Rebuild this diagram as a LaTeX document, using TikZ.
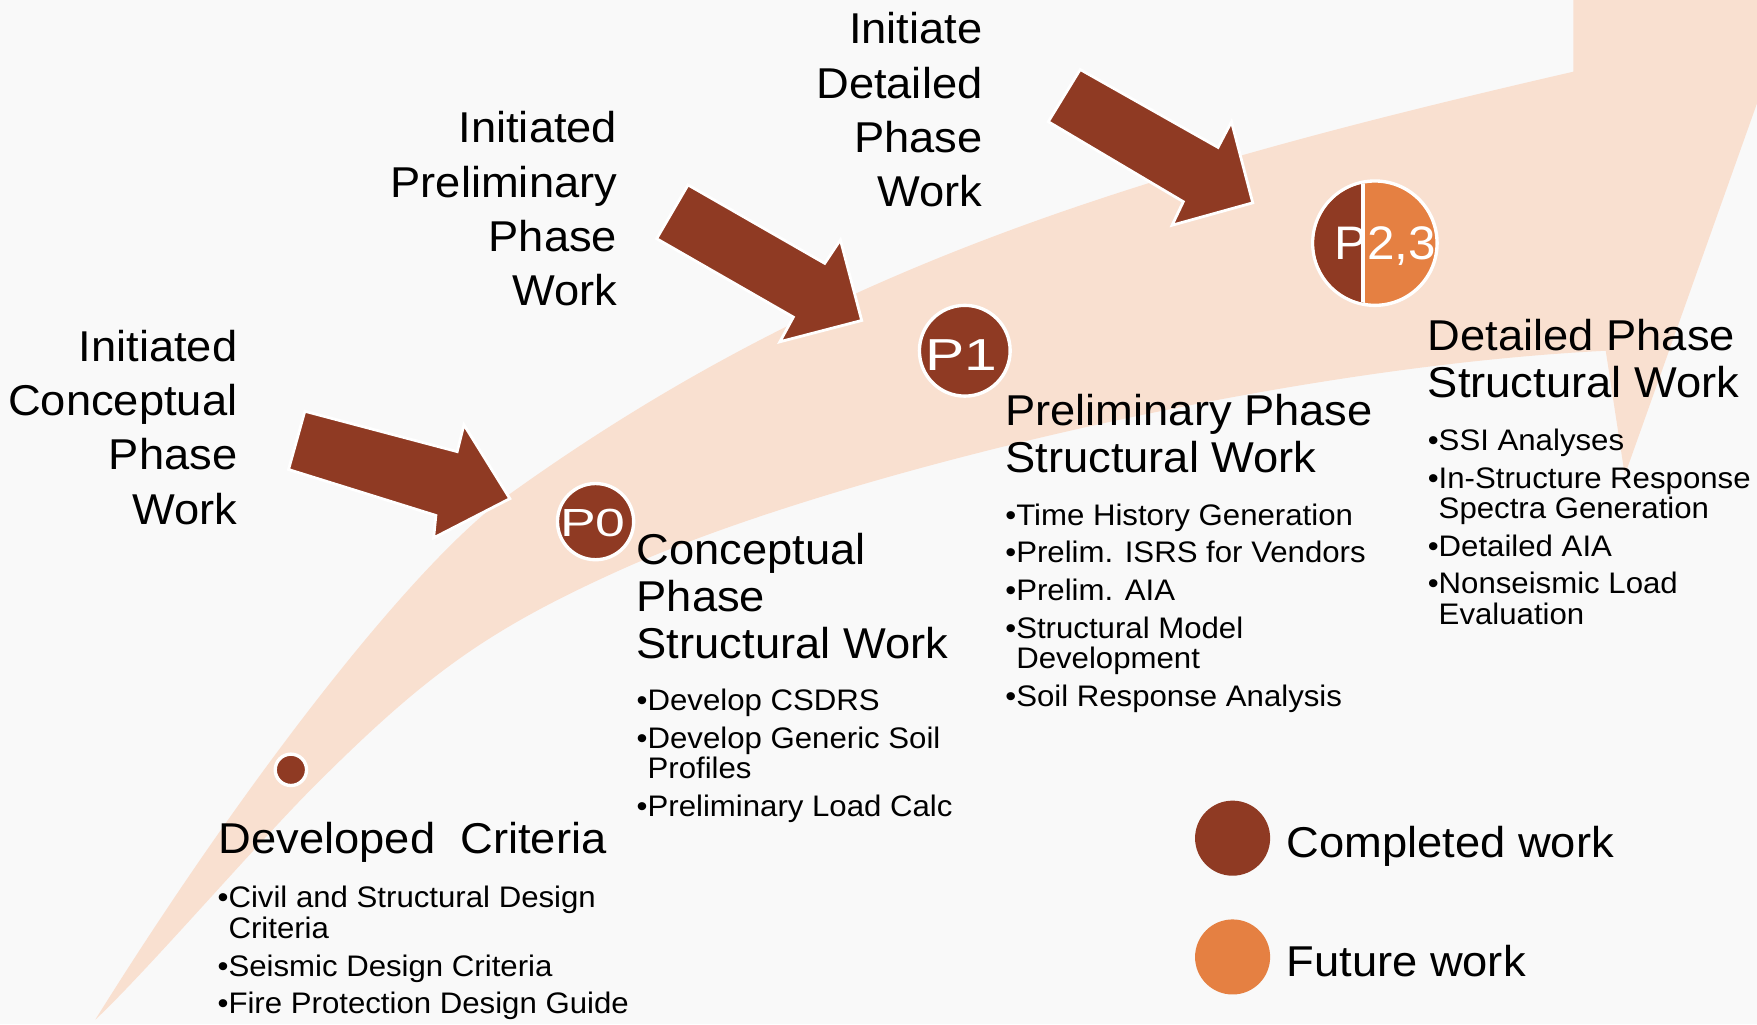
\documentclass[tikz,border=0pt]{standalone}
\usepackage{fontspec}
\setmainfont[FakeStretch=1.05]{Liberation Sans}
\usepackage{graphicx}
\definecolor{bandc}{RGB}{249,224,208}
\definecolor{brownc}{RGB}{143,58,35}
\definecolor{orangec}{RGB}{229,128,66}
\definecolor{bgc}{RGB}{249,249,249}
\begin{document}
\begin{tikzpicture}[x=1pt,y=-1pt,
  bigl/.style={inner sep=0pt, align=left, font=\fontsize{38.5}{42}\selectfont, anchor=north west},
  bigr/.style={inner sep=0pt, align=right, font=\fontsize{38.5}{48.5}\selectfont, anchor=north east},
  bul/.style={inner sep=0pt, align=left, font=\fontsize{26.5}{27}\selectfont, anchor=north west},
  phase/.style={circle, fill=brownc, draw=white, line width=3pt, inner sep=0pt},
  plabel/.style={text=white, inner sep=0pt, anchor=base},
  blockarrow/.style={fill=brownc, draw=white, line width=2.5pt, line join=miter},
  legtxt/.style={inner sep=0pt, anchor=base west, font=\fontsize{38.5}{42}\selectfont}
]
\fill[bgc] (0,0) rectangle (1568,914);
\useasboundingbox (0,0) rectangle (1568,914);

% curved band arrow
\begin{scope}
\clip (0,0) rectangle (1568,914);
\fill[bandc] (85,910) .. controls (225,686) and (372,500.6) .. (452,443)
  .. controls (732,241.4) and (1004,156) .. (1404,64)
  -- (1404,-40) -- (1615,-40) -- (1450,424) -- (1433,313)
  .. controls (1133,328) and (735,427) .. (555,508)
  .. controls (435,562) and (380,602) .. (280,702)
  .. controls (230,752) and (130,868) .. (85,910) -- cycle;
\end{scope}

% block arrows
\fill[blockarrow] (272,367) -- (408,403) -- (414,379) -- (455,445) -- (387,480) -- (389,460) -- (257.5,419) -- cycle;
\fill[blockarrow] (614,165) -- (736,235) -- (750,214) -- (769,286) -- (696,305) -- (708,283) -- (586,213) -- cycle;
\fill[blockarrow] (964,62) -- (1087,131.5) -- (1099,108.6) -- (1118,181) -- (1046,201) -- (1056,180) -- (935.5,108.6) -- cycle;

% milestones
\node[phase, minimum size=28] (p00) at (259.6,687) {};
\node[phase, minimum size=68] (p0) at (531.5,465.5) {};
\node[plabel, font=\fontsize{35}{35}\selectfont] (p0t) at (529,479) {\scalebox{1.3}[1]{P0}};
\node[phase, minimum size=81] (p1) at (861,313) {};
\node[plabel, font=\fontsize{40}{40}\selectfont] (p1t) at (858,331) {\scalebox{1.25}[1]{P1}};
\node[phase, fill=orangec, minimum size=111] (p23) at (1227,217) {};
\begin{scope}
\clip (1227,217) circle (54);
\fill[brownc] (1160,150) rectangle (1216.5,290);
\draw[white, line width=3.5pt] (1216.5,150) -- (1216.5,290);
\end{scope}
\node[plabel, font=\fontsize{42}{42}\selectfont] (p23t) at (1236,232) {P2,3};

% initiation labels
\node[bigr] (i0) at (212,294.3) {Initiated\\Conceptual\\Phase\\Work};
\node[bigr] (i1) at (551,99.3) {Initiated\\Preliminary\\Phase\\Work};
\node[bigr] (i2) at (877,11) {Initiate\\Detailed\\Phase\\Work};

% phase titles
\node[legtxt] (dc) at (195,761.6) {Developed~~Criteria};
\node[bigl] (cp) at (568,475.3) {Conceptual\\Phase\\Structural Work};
\node[bigl] (pp) at (897,351.3) {Preliminary Phase\\Structural Work};
\node[bigl] (dp) at (1274,284.6) {Detailed Phase\\Structural Work};

% bullet lists
\node[bul] (dcb) at (194,790.9) {\textbullet Civil and Structural Design\\\hphantom{\textbullet}Criteria\\[7pt]\textbullet Seismic Design Criteria\\[6pt]\textbullet Fire Protection Design Guide};
\node[bul] (cpb) at (568,614.5) {\textbullet Develop CSDRS\\[7pt]\textbullet Develop Generic Soil\\\hphantom{\textbullet}Profiles\\[7pt]\textbullet Preliminary Load Calc};
\node[bul] (ppb) at (897,449.4) {\textbullet Time History Generation\\[6pt]\textbullet Prelim. ISRS for Vendors\\[7pt]\textbullet Prelim. AIA\\[7pt]\textbullet Structural Model\\\hphantom{\textbullet}Development\\[7pt]\textbullet Soil Response Analysis};
\node[bul] (dpb) at (1274,382.5) {\textbullet SSI Analyses\\[7pt]\textbullet In-Structure Response\\\hphantom{\textbullet}Spectra Generation\\[7pt]\textbullet Detailed AIA\\[6pt]\textbullet Nonseismic Load\\\hphantom{\textbullet}Evaluation};

% legend
\node[circle, fill=brownc, minimum size=67, inner sep=0pt] (lc) at (1100,748) {};
\node[circle, fill=orangec, minimum size=67, inner sep=0pt] (lf) at (1100,854) {};
\node[legtxt] (lct) at (1148,765) {Completed work};
\node[legtxt] (lft) at (1148,871) {Future work};
\end{tikzpicture}
\end{document}
